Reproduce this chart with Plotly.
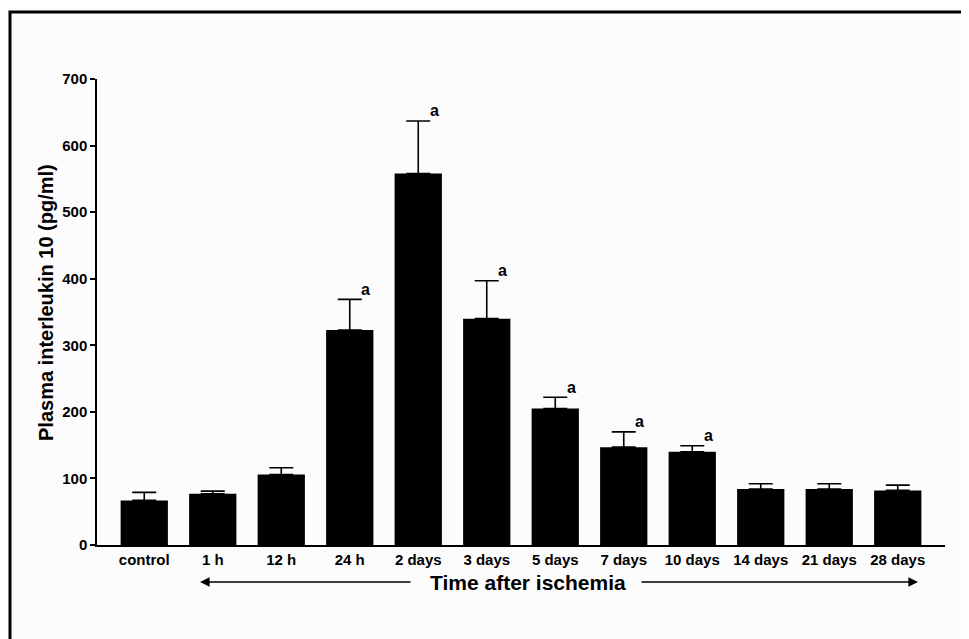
import plotly.graph_objects as go

categories = ["control", "1 h", "12 h", "24 h", "2 days", "3 days", "5 days",
              "7 days", "10 days", "14 days", "21 days", "28 days"]
means = [67, 77, 106, 323, 558, 340, 205, 147, 140, 84, 84, 82]
errors = [12, 4, 10, 46, 79, 57, 17, 23, 9, 8, 8, 8]
significant = [False, False, False, True, True, True, True, True, True, False, False, False]
y_ticks = [0, 100, 200, 300, 400, 500, 600, 700]

FONT = "Arial, Liberation Sans, Helvetica, sans-serif"

# the page body adds an 8px margin; work in page pixels and convert
OFF = 8
W, H = 969 - OFF, 639 - OFF
L, R, T, B = 97, 945, 79, 545  # plot area in page pixels

def px(xp):
    return (xp - L) / (R - L)

def py(yp):
    return (B - yp) / (B - T)

fig = go.Figure()
fig.add_trace(go.Bar(
    x=categories, y=means,
    marker=dict(color="black", line=dict(width=0)),
    error_y=dict(type="data", array=errors, arrayminus=[0] * len(errors),
                 symmetric=False, color="black", thickness=1.6, width=12),
    width=0.69,
))

annotations = []
for c, m, e, s in zip(categories, means, errors, significant):
    if s:
        annotations.append(dict(x=c, y=m + e, xref="x", yref="y", text="a",
                                showarrow=False, xshift=16, yshift=10,
                                font=dict(family=FONT, size=16, color="black", weight="bold")))

annotations.append(dict(x=px(46), y=py(303), xref="paper", yref="paper",
                        text="Plasma interleukin 10 (pg/ml)", textangle=-90,
                        showarrow=False, xanchor="center", yanchor="middle",
                        font=dict(family=FONT, size=20, color="black", weight="bold")))
annotations.append(dict(x=px(528), y=py(582), xref="paper", yref="paper",
                        text="Time after ischemia", showarrow=False,
                        xanchor="center", yanchor="middle",
                        font=dict(family=FONT, size=21, color="black", weight="bold")))
annotations.append(dict(x=px(200), y=py(582), xref="paper", yref="paper", text="",
                        showarrow=True, ax=212, ay=0, arrowhead=2, arrowsize=1.2,
                        arrowwidth=1.6, arrowcolor="black"))
annotations.append(dict(x=px(918), y=py(582), xref="paper", yref="paper", text="",
                        showarrow=True, ax=-278, ay=0, arrowhead=2, arrowsize=1.2,
                        arrowwidth=1.6, arrowcolor="black"))

shapes = [dict(type="rect", xref="paper", yref="paper",
               x0=px(10), x1=px(967), y0=py(680), y1=py(12),
               line=dict(color="black", width=3), fillcolor="rgba(0,0,0,0)")]

fig.update_layout(
    width=W, height=H,
    margin=dict(l=L - OFF, r=(W + OFF) - R, t=T - OFF, b=(H + OFF) - B, pad=0),
    paper_bgcolor="#fcfcfc", plot_bgcolor="#fcfcfc",
    showlegend=False,
    bargap=0.31,
    annotations=annotations,
    shapes=shapes,
    xaxis=dict(range=[-0.69, 11.69], showline=True, linecolor="black", linewidth=1.5,
               ticks="", showgrid=False, zeroline=False,
               tickfont=dict(family=FONT, size=15, color="black", weight="bold")),
    yaxis=dict(range=[0, 700], tickvals=y_ticks, showline=True, linecolor="black",
               linewidth=1.5, ticks="outside", ticklen=5, tickwidth=1.5, tickcolor="black",
               showgrid=False, zeroline=False,
               tickfont=dict(family=FONT, size=15, color="black", weight="bold")),
)

fig.write_html("out.html")
